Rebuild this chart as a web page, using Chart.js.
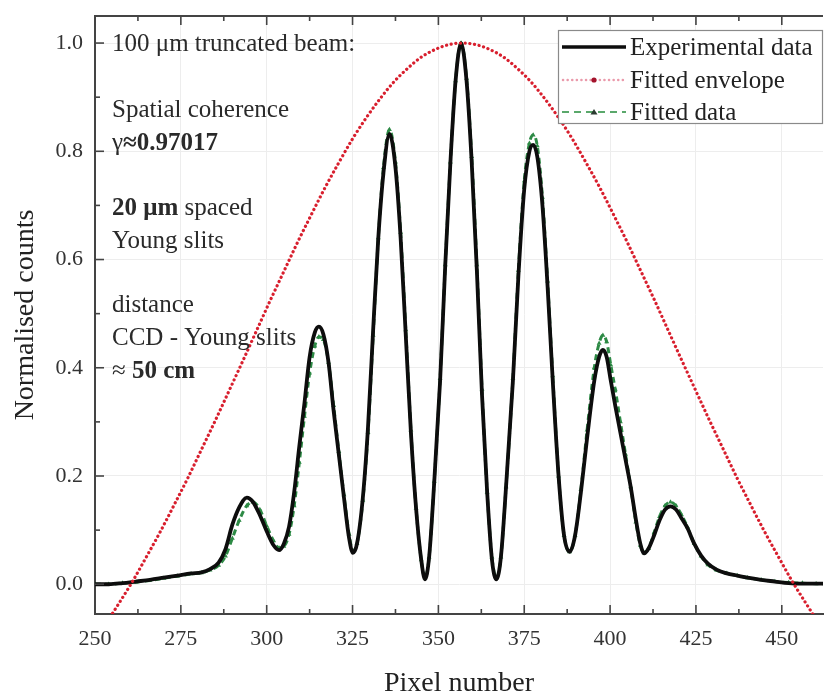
<!DOCTYPE html>
<html>
<head>
<meta charset="utf-8">
<script src="https://cdn.jsdelivr.net/npm/chart.js@4.4.0/dist/chart.umd.min.js"></script>
<style>
  body { margin: 0; background: #fff; }
  canvas { display: block; }
</style>
</head>
<body>
<canvas id="myChart" width="827" height="695"></canvas>
<script>

// pixel positions where the profile was read
const pixelX = [
    250, 254, 258, 262, 266, 270, 274, 278, 281, 283.5,
    286, 288, 290, 292, 294.2, 296, 298, 300, 302, 303.6,
    305, 306.5, 308, 309.5, 311, 312.5, 314, 315.2, 316.5, 318,
    319.5, 321, 322.5, 324, 325.1, 326.3, 328, 329.5, 331, 332.5,
    334, 335.75, 337.5, 339, 340.5, 342, 343.5, 345, 346.1, 347.3,
    348.8, 350.5, 352, 353.5, 355, 356.6, 358.2, 359.7, 361.2, 362.7,
    364.2, 365.6, 366.9, 368.2, 369.7, 371.7, 373.3, 375, 376.5, 377.6,
    378.8, 380.3, 381.8, 383.3, 385, 386.6, 388.2, 389.8, 391.5, 393.3,
    395.4, 396.8, 397.9, 399, 400.2, 401.5, 403, 404.5, 406, 407.5,
    408.8, 409.9, 411.2, 412.8, 414.4, 416, 417.6, 419.2, 420.8, 422.5,
    424.5, 426.5, 428.5, 431, 434, 437, 440, 444, 448, 452,
    456, 460, 463
]

const experimental = [
    0.0, 0.0, 0.002, 0.005, 0.008, 0.012, 0.016, 0.02, 0.022, 0.028,
    0.04, 0.065, 0.11, 0.142, 0.16, 0.152, 0.128, 0.098, 0.072, 0.063,
    0.075, 0.106, 0.17, 0.255, 0.335, 0.42, 0.465, 0.476, 0.462, 0.41,
    0.32, 0.24, 0.16, 0.085, 0.058, 0.075, 0.16, 0.29, 0.47, 0.64,
    0.76, 0.832, 0.77, 0.64, 0.46, 0.28, 0.14, 0.045, 0.009, 0.05,
    0.19, 0.376, 0.59, 0.78, 0.93, 1.0, 0.93, 0.78, 0.58, 0.35,
    0.17, 0.045, 0.009, 0.05, 0.18, 0.376, 0.57, 0.73, 0.8, 0.812,
    0.79, 0.7, 0.55, 0.376, 0.2, 0.09, 0.06, 0.09, 0.17, 0.27,
    0.376, 0.42, 0.433, 0.42, 0.376, 0.33, 0.28, 0.23, 0.18, 0.12,
    0.075, 0.057, 0.066, 0.09, 0.118, 0.138, 0.144, 0.138, 0.122, 0.104,
    0.075, 0.053, 0.038, 0.027, 0.02, 0.016, 0.012, 0.008, 0.005, 0.002,
    0.001, 0.001, 0.001
]

const fitted = [
    0.0, 0.0, 0.002, 0.004, 0.007, 0.011, 0.015, 0.019, 0.021, 0.026,
    0.035, 0.052, 0.085, 0.118, 0.145, 0.152, 0.138, 0.108, 0.08, 0.067,
    0.07, 0.092, 0.145, 0.225, 0.31, 0.39, 0.44, 0.457, 0.452, 0.41,
    0.33, 0.245, 0.165, 0.092, 0.062, 0.075, 0.155, 0.28, 0.46, 0.64,
    0.77, 0.84, 0.78, 0.65, 0.47, 0.285, 0.14, 0.045, 0.012, 0.05,
    0.19, 0.38, 0.59, 0.78, 0.93, 1.0, 0.935, 0.79, 0.59, 0.36,
    0.17, 0.05, 0.012, 0.05, 0.18, 0.38, 0.58, 0.745, 0.815, 0.83,
    0.81, 0.715, 0.56, 0.385, 0.2, 0.09, 0.06, 0.09, 0.175, 0.285,
    0.4, 0.445, 0.46, 0.448, 0.405, 0.36, 0.3, 0.24, 0.18, 0.115,
    0.072, 0.058, 0.066, 0.095, 0.125, 0.145, 0.152, 0.145, 0.128, 0.106,
    0.075, 0.052, 0.036, 0.026, 0.02, 0.016, 0.012, 0.008, 0.005, 0.003,
    0.002, 0.001, 0.001
]

const envelopeX = [
    249, 253, 257, 261, 265, 269, 273, 277, 281, 285,
    289, 293, 297, 301, 305, 309, 313, 317, 321, 325,
    329, 333, 337, 341, 345, 349, 353, 357, 361, 365,
    369, 373, 377, 381, 385, 389, 393, 397, 401, 405,
    409, 413, 417, 421, 425, 429, 433, 437, 441, 445,
    449, 453, 457, 461, 465
]

const envelope = [
    -0.111, -0.074, -0.035, 0.006, 0.051, 0.097, 0.146, 0.196, 0.249, 0.302,
    0.357, 0.412, 0.468, 0.524, 0.578, 0.632, 0.683, 0.733, 0.779, 0.823,
    0.862, 0.897, 0.928, 0.953, 0.974, 0.988, 0.997, 1.0, 0.997, 0.988,
    0.974, 0.953, 0.928, 0.897, 0.862, 0.823, 0.779, 0.733, 0.683, 0.632,
    0.578, 0.524, 0.468, 0.412, 0.357, 0.302, 0.249, 0.196, 0.146, 0.097,
    0.051, 0.006, -0.035, -0.074, -0.111
]

const xTicks = [250, 275, 300, 325, 350, 375, 400, 425, 450]
const yTicks = [0, 0.2, 0.4, 0.6, 0.8, 1.0]

const SERIF = '"Liberation Serif", "Times New Roman", serif'

const toPoints = (xs, ys) => xs.map((v, i) => ({ x: v, y: ys[i] }))

// text block on the left, bold parts marked with 1
const notas = [
    { y: 51, parts: [['100 μm truncated beam:', 0]] },
    { y: 117, parts: [['Spatial coherence', 0]] },
    { y: 150, parts: [['γ', 0], ['≈0.97017', 1]] },
    { y: 215, parts: [['20 μm', 1], [' spaced', 0]] },
    { y: 248, parts: [['Young slits', 0]] },
    { y: 312, parts: [['distance', 0]] },
    { y: 345, parts: [['CCD - Young slits', 0]] },
    { y: 378, parts: [['≈ ', 0], ['50 cm', 1]] }
]

const decor = {
    id: 'decor',
    afterDatasetsDraw(chart) {
        const { ctx, chartArea: a, scales: { x, y } } = chart
        ctx.save()

        // top frame line
        ctx.strokeStyle = '#444'
        ctx.lineWidth = 2
        ctx.beginPath()
        ctx.moveTo(a.left, a.top)
        ctx.lineTo(a.right, a.top)
        ctx.stroke()

        // inward ticks
        ctx.lineWidth = 1.6
        const tickX = (v, len) => {
            const px = x.getPixelForValue(v)
            ctx.beginPath()
            ctx.moveTo(px, a.bottom); ctx.lineTo(px, a.bottom - len)
            ctx.moveTo(px, a.top); ctx.lineTo(px, a.top + len)
            ctx.stroke()
        }
        xTicks.forEach(v => {
            tickX(v, 9)
            if (v + 12.5 < x.max) tickX(v + 12.5, 5)
        })
        const tickY = (v, len) => {
            const py = y.getPixelForValue(v)
            ctx.beginPath()
            ctx.moveTo(a.left, py); ctx.lineTo(a.left + len, py)
            ctx.stroke()
        }
        yTicks.forEach(v => {
            tickY(v, 9)
            if (v + 0.1 < y.max) tickY(v + 0.1, 5)
        })

        // notes
        ctx.fillStyle = '#2a2a2a'
        ctx.textBaseline = 'alphabetic'
        ctx.textAlign = 'left'
        notas.forEach(n => {
            let px = 112
            n.parts.forEach(([t, b]) => {
                ctx.font = (b ? 'bold ' : '') + '25px ' + SERIF
                ctx.fillText(t, px, n.y)
                px += ctx.measureText(t).width
            })
        })

        // legend box
        ctx.fillStyle = '#fff'
        ctx.fillRect(558, 30, 264, 93)
        ctx.strokeStyle = '#8a8a8a'
        ctx.lineWidth = 1.2
        ctx.setLineDash([])
        ctx.strokeRect(558.5, 30.5, 264, 93)

        ctx.strokeStyle = '#0d0d0d'
        ctx.lineWidth = 3.5
        ctx.beginPath(); ctx.moveTo(562, 47); ctx.lineTo(626, 47); ctx.stroke()

        ctx.strokeStyle = '#ea9aab'
        ctx.lineWidth = 2.5
        ctx.lineCap = 'round'
        ctx.setLineDash([0.1, 4.5])
        ctx.beginPath(); ctx.moveTo(563, 80); ctx.lineTo(626, 80); ctx.stroke()
        ctx.setLineDash([])
        ctx.fillStyle = '#a3122b'
        ctx.beginPath(); ctx.arc(594, 80, 2.6, 0, Math.PI * 2); ctx.fill()

        ctx.lineCap = 'butt'
        ctx.strokeStyle = '#5aa86b'
        ctx.lineWidth = 2
        ctx.setLineDash([7, 5])
        ctx.beginPath(); ctx.moveTo(562, 112); ctx.lineTo(626, 112); ctx.stroke()
        ctx.setLineDash([])
        ctx.fillStyle = '#2b3b30'
        ctx.beginPath(); ctx.moveTo(594, 109); ctx.lineTo(597.5, 114.5); ctx.lineTo(590.5, 114.5); ctx.closePath(); ctx.fill()

        ctx.fillStyle = '#222'
        ctx.font = '25px ' + SERIF
        ctx.fillText('Experimental data', 630, 55)
        ctx.fillText('Fitted envelope', 630, 88)
        ctx.fillText('Fitted data', 630, 120)

        ctx.restore()
    }
}

const ctx = document.getElementById('myChart')
const myChart = new Chart(ctx, {
    type: 'line',
    data: {
        datasets: [{
            label: 'Fitted envelope',
            data: toPoints(envelopeX, envelope),
            borderColor: '#d81f2e',
            borderWidth: 3.2,
            borderDash: [0.1, 4.6],
            borderCapStyle: 'round',
            pointRadius: 0,
            cubicInterpolationMode: 'monotone',
            order: 0
        }, {
            label: 'Experimental data',
            data: toPoints(pixelX, experimental),
            borderColor: '#0d0d0d',
            borderWidth: 3.8,
            pointRadius: 0,
            cubicInterpolationMode: 'monotone',
            order: 1
        }, {
            label: 'Fitted data',
            data: toPoints(pixelX, fitted),
            borderColor: '#2d8a45',
            borderWidth: 3,
            borderDash: [6, 4],
            pointStyle: 'triangle',
            pointRadius: 2.8,
            pointBackgroundColor: '#2d8a45',
            pointBorderWidth: 0,
            cubicInterpolationMode: 'monotone',
            order: 2
        }]
    },
    options: {
        responsive: false,
        animation: false,
        devicePixelRatio: 1,
        layout: { padding: { top: 16, right: 0, left: 0, bottom: 0 } },
        plugins: {
            legend: { display: false },
            tooltip: { enabled: false }
        },
        scales: {
            x: {
                type: 'linear',
                min: 250,
                max: 462,
                afterBuildTicks: s => { s.ticks = xTicks.map(v => ({ value: v })) },
                afterFit: s => {
                    s.height = 81
                    s.paddingLeft = 0
                    s.paddingRight = 0
                },
                ticks: {
                    font: { family: SERIF, size: 22 },
                    color: '#333',
                    padding: 12,
                    maxRotation: 0,
                    autoSkip: false
                },
                grid: { color: '#ededed', drawTicks: false },
                border: { color: '#444', width: 2 },
                title: {
                    display: true,
                    text: 'Pixel number',
                    font: { family: SERIF, size: 28 },
                    color: '#222',
                    padding: { top: 0, bottom: -5 }
                }
            },
            y: {
                min: -0.055,
                max: 1.05,
                afterBuildTicks: s => { s.ticks = yTicks.map(v => ({ value: v })) },
                afterFit: s => {
                    s.width = 95
                    s.paddingTop = 0
                    s.paddingBottom = 0
                },
                ticks: {
                    font: { family: SERIF, size: 22 },
                    color: '#333',
                    padding: 12,
                    callback: v => v.toFixed(1)
                },
                grid: { color: '#ededed', drawTicks: false },
                border: { color: '#444', width: 2 },
                title: {
                    display: true,
                    text: 'Normalised counts',
                    font: { family: SERIF, size: 28 },
                    color: '#222',
                    padding: { top: 9, bottom: 0 }
                }
            }
        }
    },
    plugins: [decor]
})

</script>
</body>
</html>
